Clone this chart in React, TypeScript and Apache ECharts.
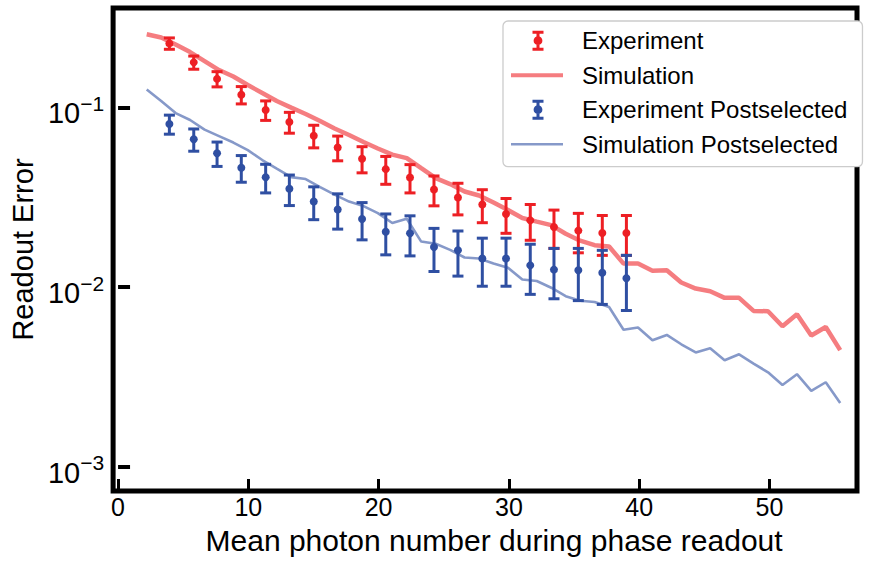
import { useEffect, useRef } from 'react';
import * as echarts from 'echarts';

// Experimental points (mean photon number, readout error, error-bar half width)
const expX = [3.94, 5.81, 7.6, 9.46, 11.33, 13.15, 15.02, 16.86, 18.73, 20.55, 22.41, 24.25, 26.09, 27.96, 29.78, 31.64, 33.46, 35.33, 37.17, 39.02];
const expVal = [0.227, 0.178, 0.144, 0.1175, 0.0966, 0.0828, 0.0695, 0.0598, 0.0518, 0.0453, 0.0407, 0.0349, 0.0315, 0.0288, 0.0255, 0.0235, 0.0216, 0.0206, 0.02, 0.02];
const expErr = [0.0165, 0.015, 0.014, 0.013, 0.012, 0.011, 0.01, 0.0094, 0.0086, 0.008, 0.0073, 0.0066, 0.0063, 0.006, 0.0056, 0.0053, 0.0052, 0.0051, 0.005, 0.005];
const expPostVal = [0.0807, 0.0664, 0.0555, 0.0461, 0.0408, 0.0352, 0.0299, 0.027, 0.0239, 0.0203, 0.0199, 0.0167, 0.016, 0.0144, 0.0144, 0.0132, 0.0125, 0.0124, 0.012, 0.0112];
const expPostErr = [0.0098, 0.0094, 0.0086, 0.0078, 0.0074, 0.0068, 0.0062, 0.006, 0.0056, 0.0052, 0.005, 0.0045, 0.0045, 0.0043, 0.0043, 0.0041, 0.0039, 0.004, 0.004, 0.0038];

// Simulation curves
const simX = [2.2, 3.31, 4.42, 5.53, 6.64, 7.75, 8.85, 9.96, 11.07, 12.18, 13.29, 14.4, 15.51, 16.62, 17.73, 18.84, 19.94, 21.05, 22.16, 23.27, 24.38, 25.49, 26.6, 27.71, 28.82, 29.93, 31.03, 32.14, 33.25, 34.36, 35.47, 36.58, 37.69, 38.8, 39.91, 41.02, 42.12, 43.23, 44.34, 45.45, 46.56, 47.67, 48.78, 49.89, 51.0, 52.11, 53.21, 54.32, 55.43];
const simVal = [0.255, 0.245, 0.224, 0.203, 0.181, 0.1613, 0.1484, 0.1331, 0.1202, 0.1084, 0.0997, 0.0918, 0.0839, 0.0762, 0.0701, 0.0641, 0.059, 0.0546, 0.0522, 0.0459, 0.0404, 0.0374, 0.034, 0.0323, 0.0295, 0.0268, 0.0242, 0.0231, 0.0221, 0.0198, 0.0181, 0.0171, 0.0168, 0.0135, 0.0135, 0.0123, 0.0124, 0.0106, 0.0098, 0.00947, 0.0087, 0.0087, 0.00736, 0.00733, 0.00605, 0.00706, 0.00537, 0.00599, 0.00445];
const simPostVal = [0.1257, 0.1084, 0.0929, 0.085, 0.0752, 0.0692, 0.0637, 0.0578, 0.0509, 0.0456, 0.0409, 0.0399, 0.036, 0.0327, 0.0299, 0.0282, 0.0258, 0.0227, 0.024, 0.0179, 0.0174, 0.0161, 0.0146, 0.0144, 0.0135, 0.0128, 0.011, 0.0108, 0.00991, 0.00889, 0.00839, 0.00826, 0.00774, 0.00578, 0.00595, 0.00505, 0.00541, 0.0048, 0.00432, 0.00456, 0.00391, 0.00422, 0.00375, 0.00335, 0.00285, 0.00327, 0.00264, 0.00295, 0.00226];

const xTicks = [0, 10, 20, 30, 40, 50];
const yTicks = [0.001, 0.01, 0.1];

const FONT = '"Liberation Sans", Arial, Helvetica, sans-serif';
const RED = '#ed1f24';
const BLUE = '#2f4fa2';
const RED_SIM = 'rgba(237,31,36,0.58)';
const BLUE_SIM = 'rgba(47,79,162,0.58)';

const SPECKS = 'M0,0 L0.01,0 L0,0.01 Z M66,20 L65.99,20 L66,19.99 Z ';
const ERR_ICON =
  'path://' + SPECKS +
  'M21.5,0 L32.5,0 L32.5,3 L21.5,3 Z M21.5,17 L32.5,17 L32.5,20 L21.5,20 Z M25.5,0 L28.5,0 L28.5,20 L25.5,20 Z ' +
  'M22.6,10 A4.4,4.4 0 1,1 31.4,10 A4.4,4.4 0 1,1 22.6,10 Z';
const RED_LINE_ICON = 'path://' + SPECKS + 'M0,8 L52,8 L52,12 L0,12 Z';
const BLUE_LINE_ICON = 'path://' + SPECKS + 'M0,8.75 L52,8.75 L52,11.25 L0,11.25 Z';

function errorRenderer(color: string) {
  return (params: any, api: any) => {
    const x = api.value(0);
    const y = api.value(1);
    const e = api.value(2);
    const c = api.coord([x, y]);
    const top = api.coord([x, y + e]);
    const bot = api.coord([x, y - e]);
    const lw = 3;
    const hw = 5.5;
    return {
      type: 'group',
      children: [
        { type: 'line', shape: { x1: c[0], y1: top[1], x2: c[0], y2: bot[1] }, style: { stroke: color, lineWidth: lw } },
        { type: 'line', shape: { x1: c[0] - hw, y1: top[1], x2: c[0] + hw, y2: top[1] }, style: { stroke: color, lineWidth: lw } },
        { type: 'line', shape: { x1: c[0] - hw, y1: bot[1], x2: c[0] + hw, y2: bot[1] }, style: { stroke: color, lineWidth: lw } },
        { type: 'circle', shape: { cx: c[0], cy: c[1], r: 4 }, style: { fill: color } },
      ],
    };
  };
}

export default function App() {
  const ref = useRef<HTMLDivElement>(null);
  useEffect(() => {
    if (!ref.current) return;
    const chart = echarts.init(ref.current, null, { renderer: 'svg' });
    const expData = expX.map((x, i) => [x, expVal[i], expErr[i]]);
    const expPostData = expX.map((x, i) => [x, expPostVal[i], expPostErr[i]]);
    const simData = simX.map((x, i) => [x, simVal[i]]);
    const simPostData = simX.map((x, i) => [x, simPostVal[i]]);

    chart.setOption({
      animation: false,
      textStyle: { fontFamily: FONT },
      grid: {
        left: 113,
        right: 14,
        top: 8,
        bottom: 70,
        show: true,
        borderColor: '#000',
        borderWidth: 5,
        backgroundColor: 'transparent',
      },
      legend: {
        orient: 'vertical',
        left: 503,
        top: 21,
        padding: [7.7, 15, 10.5, 8],
        itemWidth: 66,
        itemHeight: 20,
        itemGap: 10.5,
        backgroundColor: '#fff',
        borderColor: '#cccccc',
        borderWidth: 1.3,
        borderRadius: 5,
        itemStyle: { borderWidth: 0 },
        textStyle: { fontSize: 24, color: '#000', fontFamily: FONT },
        data: [
          { name: 'Experiment', icon: ERR_ICON, itemStyle: { color: RED, borderWidth: 0 } },
          { name: 'Simulation', icon: RED_LINE_ICON, itemStyle: { color: RED_SIM, borderWidth: 0 } },
          { name: 'Experiment Postselected', icon: ERR_ICON, itemStyle: { color: BLUE, borderWidth: 0 } },
          { name: 'Simulation Postselected', icon: BLUE_LINE_ICON, itemStyle: { color: BLUE_SIM, borderWidth: 0 } },
        ],
      },
      xAxis: {
        type: 'value',
        min: -0.38,
        max: 56.72,
        name: 'Mean photon number during phase readout',
        nameLocation: 'middle',
        nameGap: 34,
        nameTextStyle: { fontSize: 30, color: '#000', fontFamily: FONT, padding: [0, 0, 0, 18] },
        axisLine: { show: false },
        splitLine: { show: false },
        axisTick: { show: true, inside: true, length: 12, customValues: xTicks, lineStyle: { color: '#000', width: 3 } },
        axisLabel: { show: true, margin: 3, fontSize: 25, color: '#000', fontFamily: FONT, customValues: xTicks },
      },
      yAxis: {
        type: 'log',
        logBase: 10,
        min: 0.000732,
        max: 0.3573,
        name: 'Readout Error',
        nameLocation: 'middle',
        nameRotate: 90,
        nameGap: 70,
        nameTextStyle: { fontSize: 29, color: '#000', fontFamily: FONT },
        axisLine: { show: false },
        splitLine: { show: false },
        minorTick: { show: false },
        axisTick: { show: true, inside: true, length: 12, customValues: yTicks, lineStyle: { color: '#000', width: 4 } },
        axisLabel: {
          show: true,
          margin: 9,
          customValues: yTicks,
          formatter: (v: number) => {
            const e = Math.round(Math.log10(v));
            return '{b|10}{s|\u2212' + Math.abs(e) + '}';
          },
          rich: {
            b: { fontSize: 29, lineHeight: 29, padding: [12, 0, 0, 0], color: '#000', fontFamily: FONT },
            s: { fontSize: 21, lineHeight: 22, verticalAlign: 'top', color: '#000', fontFamily: FONT },
          },
        },
      },
      series: [
        {
          name: 'Simulation',
          type: 'line',
          data: simData,
          showSymbol: false,
          symbol: 'none',
          z: 2,
          itemStyle: { color: RED_SIM },
          lineStyle: { color: RED_SIM, width: 4.5 },
        },
        {
          name: 'Simulation Postselected',
          type: 'line',
          data: simPostData,
          showSymbol: false,
          symbol: 'none',
          z: 2,
          itemStyle: { color: BLUE_SIM },
          lineStyle: { color: BLUE_SIM, width: 2.6 },
        },
        {
          name: 'Experiment',
          type: 'custom',
          data: expData,
          encode: { x: 0, y: 1 },
          z: 3,
          itemStyle: { color: RED },
          renderItem: errorRenderer(RED),
        },
        {
          name: 'Experiment Postselected',
          type: 'custom',
          data: expPostData,
          encode: { x: 0, y: 1 },
          z: 4,
          itemStyle: { color: BLUE },
          renderItem: errorRenderer(BLUE),
        },
      ],
    });
    return () => chart.dispose();
  }, []);
  return (
    <div
      ref={ref}
      style={{ position: 'absolute', left: 0, top: 0, width: 871, height: 561, background: '#fff' }}
    />
  );
}
